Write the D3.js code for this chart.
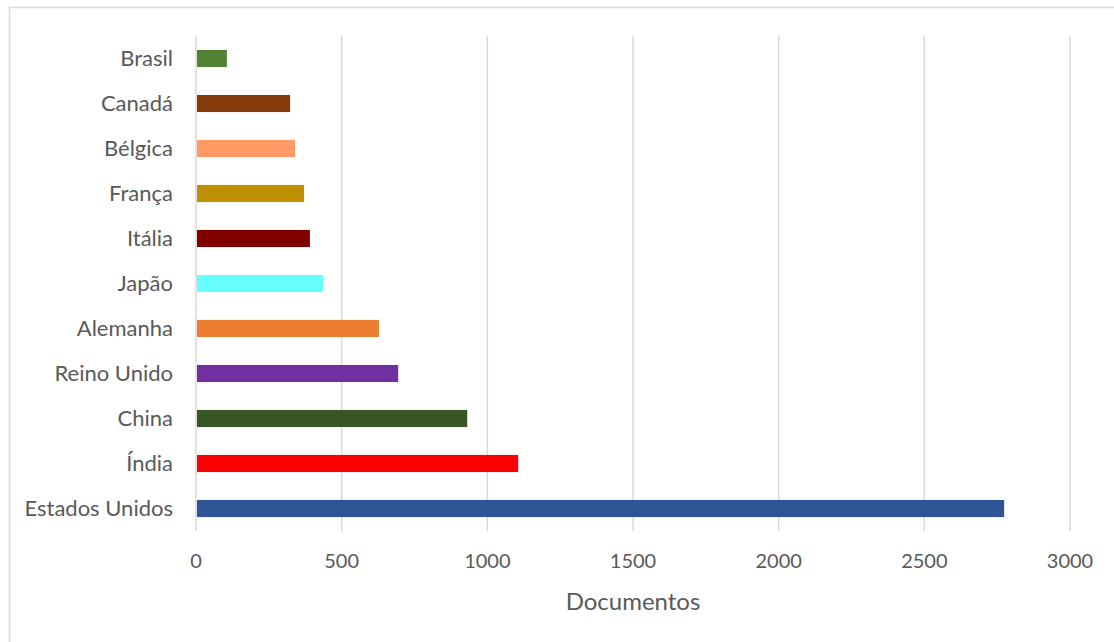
<!DOCTYPE html>
<html>
<head>
    <meta charset="utf-8">
    <title>Documentos por país</title>
    <script src="https://cdn.jsdelivr.net/npm/d3@7"></script>
    <style>
        body { margin: 0; background: #fff; }
        text { font-family: Lato, "Open Sans", sans-serif; fill: #595959; }
    </style>
</head>
<body>
    <div id="chart"></div>
    <script type="text/javascript">
        // categories top to bottom, as in the picture
        var countries = ["Brasil", "Canadá", "Bélgica", "França", "Itália", "Japão",
                         "Alemanha", "Reino Unido", "China", "Índia", "Estados Unidos"];
        var documents = [106, 323, 340, 371, 391, 436, 628, 694, 931, 1106, 2774];
        var barColors = ["#548235", "#843c0c", "#ff9966", "#bf9000", "#800000", "#66ffff",
                         "#ed7d31", "#7030a0", "#375623", "#ff0000", "#2f5597"];
        var xTicks = [0, 500, 1000, 1500, 2000, 2500, 3000];
        var xTitle = "Documentos";

        var width = 1114;
        var height = 642;
        var plotLeft = 196, plotRight = 1070, plotTop = 36, plotBottom = 531;

        var svg = d3.select("#chart").append("svg")
            .attr('width', width)
            .attr('height', height);

        // chart frame (cropped on the right and bottom)
        svg.append("path")
            .attr('d', "M9.5,660 V7.5 H1130")
            .attr('fill', 'none')
            .attr('stroke', '#d9d9d9')
            .attr('stroke-width', 1.5);

        var xScale = d3.scaleLinear()
            .domain([0, 3000])
            .range([plotLeft, plotRight]);

        var yScale = d3.scaleBand()
            .domain(countries)
            .range([plotTop, plotBottom])
            .paddingInner(0.62)
            .paddingOuter(0.31);

        // vertical gridlines
        svg.append("g").selectAll("line")
            .data(xTicks)
            .enter().append("line")
                .attr('x1', function(d) { return xScale(d); })
                .attr('x2', function(d) { return xScale(d); })
                .attr('y1', plotTop)
                .attr('y2', plotBottom)
                .attr('stroke', '#d9d9d9')
                .attr('stroke-width', 1.5);

        svg.append("g").selectAll("rect")
            .data(documents)
            .enter().append("rect")
                .attr('x', xScale(0) + 1)
                .attr('y', function(d, i) { return yScale(countries[i]); })
                .attr('width', function(d) { return xScale(d) - xScale(0) - 1; })
                .attr('height', yScale.bandwidth())
                .style('fill', function(d, i) { return barColors[i]; });

        // category labels
        svg.append("g").selectAll("text")
            .data(countries)
            .enter().append("text")
                .attr('x', 173)
                .attr('y', function(d) { return yScale(d) + yScale.bandwidth() / 2; })
                .attr('dy', '0.35em')
                .attr('text-anchor', 'end')
                .style('font-size', '22px')
                .text(function(d) { return d; });

        // x tick labels
        svg.append("g").selectAll("text")
            .data(xTicks)
            .enter().append("text")
                .attr('x', function(d) { return xScale(d); })
                .attr('y', 561)
                .attr('dy', '0.35em')
                .attr('text-anchor', 'middle')
                .style('font-size', '20px')
                .text(function(d) { return d; });

        svg.append("text")
            .attr('x', (xScale(0) + xScale(3000)) / 2)
            .attr('y', 602)
            .attr('dy', '0.35em')
            .attr('text-anchor', 'middle')
            .style('font-size', '24px')
            .text(xTitle);
    </script>
</body>
</html>
